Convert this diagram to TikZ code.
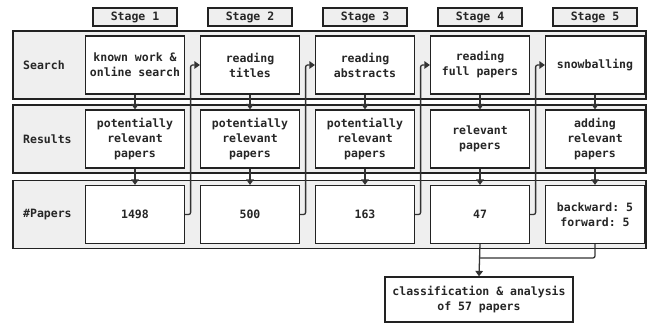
\documentclass[tikz,border=0pt]{standalone}
\usepackage{fontspec}
\setmonofont{DejaVu Sans Mono}
\usetikzlibrary{arrows.meta}
\definecolor{bandfill}{HTML}{EFEFEF}
\definecolor{edge}{HTML}{222222}
\definecolor{conncol}{HTML}{333333}
\begin{document}
\begin{tikzpicture}[x=1pt,y=-1pt,
  every node/.style={font=\ttfamily\bfseries\fontsize{11.5}{15}\selectfont, text=black!85},
  band/.style={draw=edge, fill=bandfill, line width=1.4pt, minimum width=633pt, minimum height=68pt, inner sep=0pt},
  stepbox/.style={draw=edge, fill=white, line width=1.2pt, minimum width=99pt, minimum height=58pt, inner sep=0pt, align=center},
  stagebox/.style={draw=edge, fill=bandfill, line width=1.2pt, minimum width=84pt, minimum height=18pt, inner sep=0pt},
  rowlabel/.style={anchor=west, inner sep=0pt},
  conn/.style={draw=conncol, line width=1.3pt, rounded corners=2pt},
  arr/.style={conn, -{Triangle[length=5.5pt,width=7.5pt]}}
]
\useasboundingbox (0,0) rectangle (649,326);

% bands
\node[band] (bs) at (329.5,65) {};
\node[band] (br) at (329.5,139) {};
\node[band] (bp) at (329.5,214.5) {};

% row labels
\node[rowlabel] (ls) at (23,65) {Search};
\node[rowlabel] (lr) at (23,139) {Results};
\node[rowlabel] (lp) at (23,214.5) {\#Papers};

% stage labels
\node[stagebox] (st1) at (135,17) {Stage 1};
\node[stagebox] (st2) at (250,17) {Stage 2};
\node[stagebox] (st3) at (365,17) {Stage 3};
\node[stagebox] (st4) at (480,17) {Stage 4};
\node[stagebox] (st5) at (595,17) {Stage 5};

% search row
\node[stepbox] (s1) at (135,65) {known work \&\\online search};
\node[stepbox] (s2) at (250,65) {reading\\titles};
\node[stepbox] (s3) at (365,65) {reading\\abstracts};
\node[stepbox] (s4) at (480,65) {reading\\full papers};
\node[stepbox] (s5) at (595,65) {snowballing};

% results row
\node[stepbox] (r1) at (135,139) {potentially\\relevant\\papers};
\node[stepbox] (r2) at (250,139) {potentially\\relevant\\papers};
\node[stepbox] (r3) at (365,139) {potentially\\relevant\\papers};
\node[stepbox] (r4) at (480,139) {relevant\\papers};
\node[stepbox] (r5) at (595,139) {adding\\relevant\\papers};

% papers row
\node[stepbox] (p1) at (135,214.5) {1498};
\node[stepbox] (p2) at (250,214.5) {500};
\node[stepbox] (p3) at (365,214.5) {163};
\node[stepbox] (p4) at (480,214.5) {47};
\node[stepbox] (p5) at (595,214.5) {backward: 5\\forward: 5};

% final
\node[stepbox, minimum width=188pt, minimum height=45pt] (fin) at (479,299.5) {classification \& analysis\\of 57 papers};

% vertical arrows
\foreach \i in {1,...,5} {
  \draw[arr] (s\i.south) -- (r\i.north);
  \draw[arr] (r\i.south) -- (p\i.north);
}

% stage transitions
\draw[arr] (p1.east) -- ++(5.5,0) |- (s2.west);
\draw[arr] (p2.east) -- ++(5.5,0) |- (s3.west);
\draw[arr] (p3.east) -- ++(5.5,0) |- (s4.west);
\draw[arr] (p4.east) -- ++(5.5,0) |- (s5.west);

% to final
\coordinate (j) at (480,258);
\draw[arr] (p4.south) -- (fin.north);
\draw[conn] (p5.south) |- (j);
\end{tikzpicture}
\end{document}
